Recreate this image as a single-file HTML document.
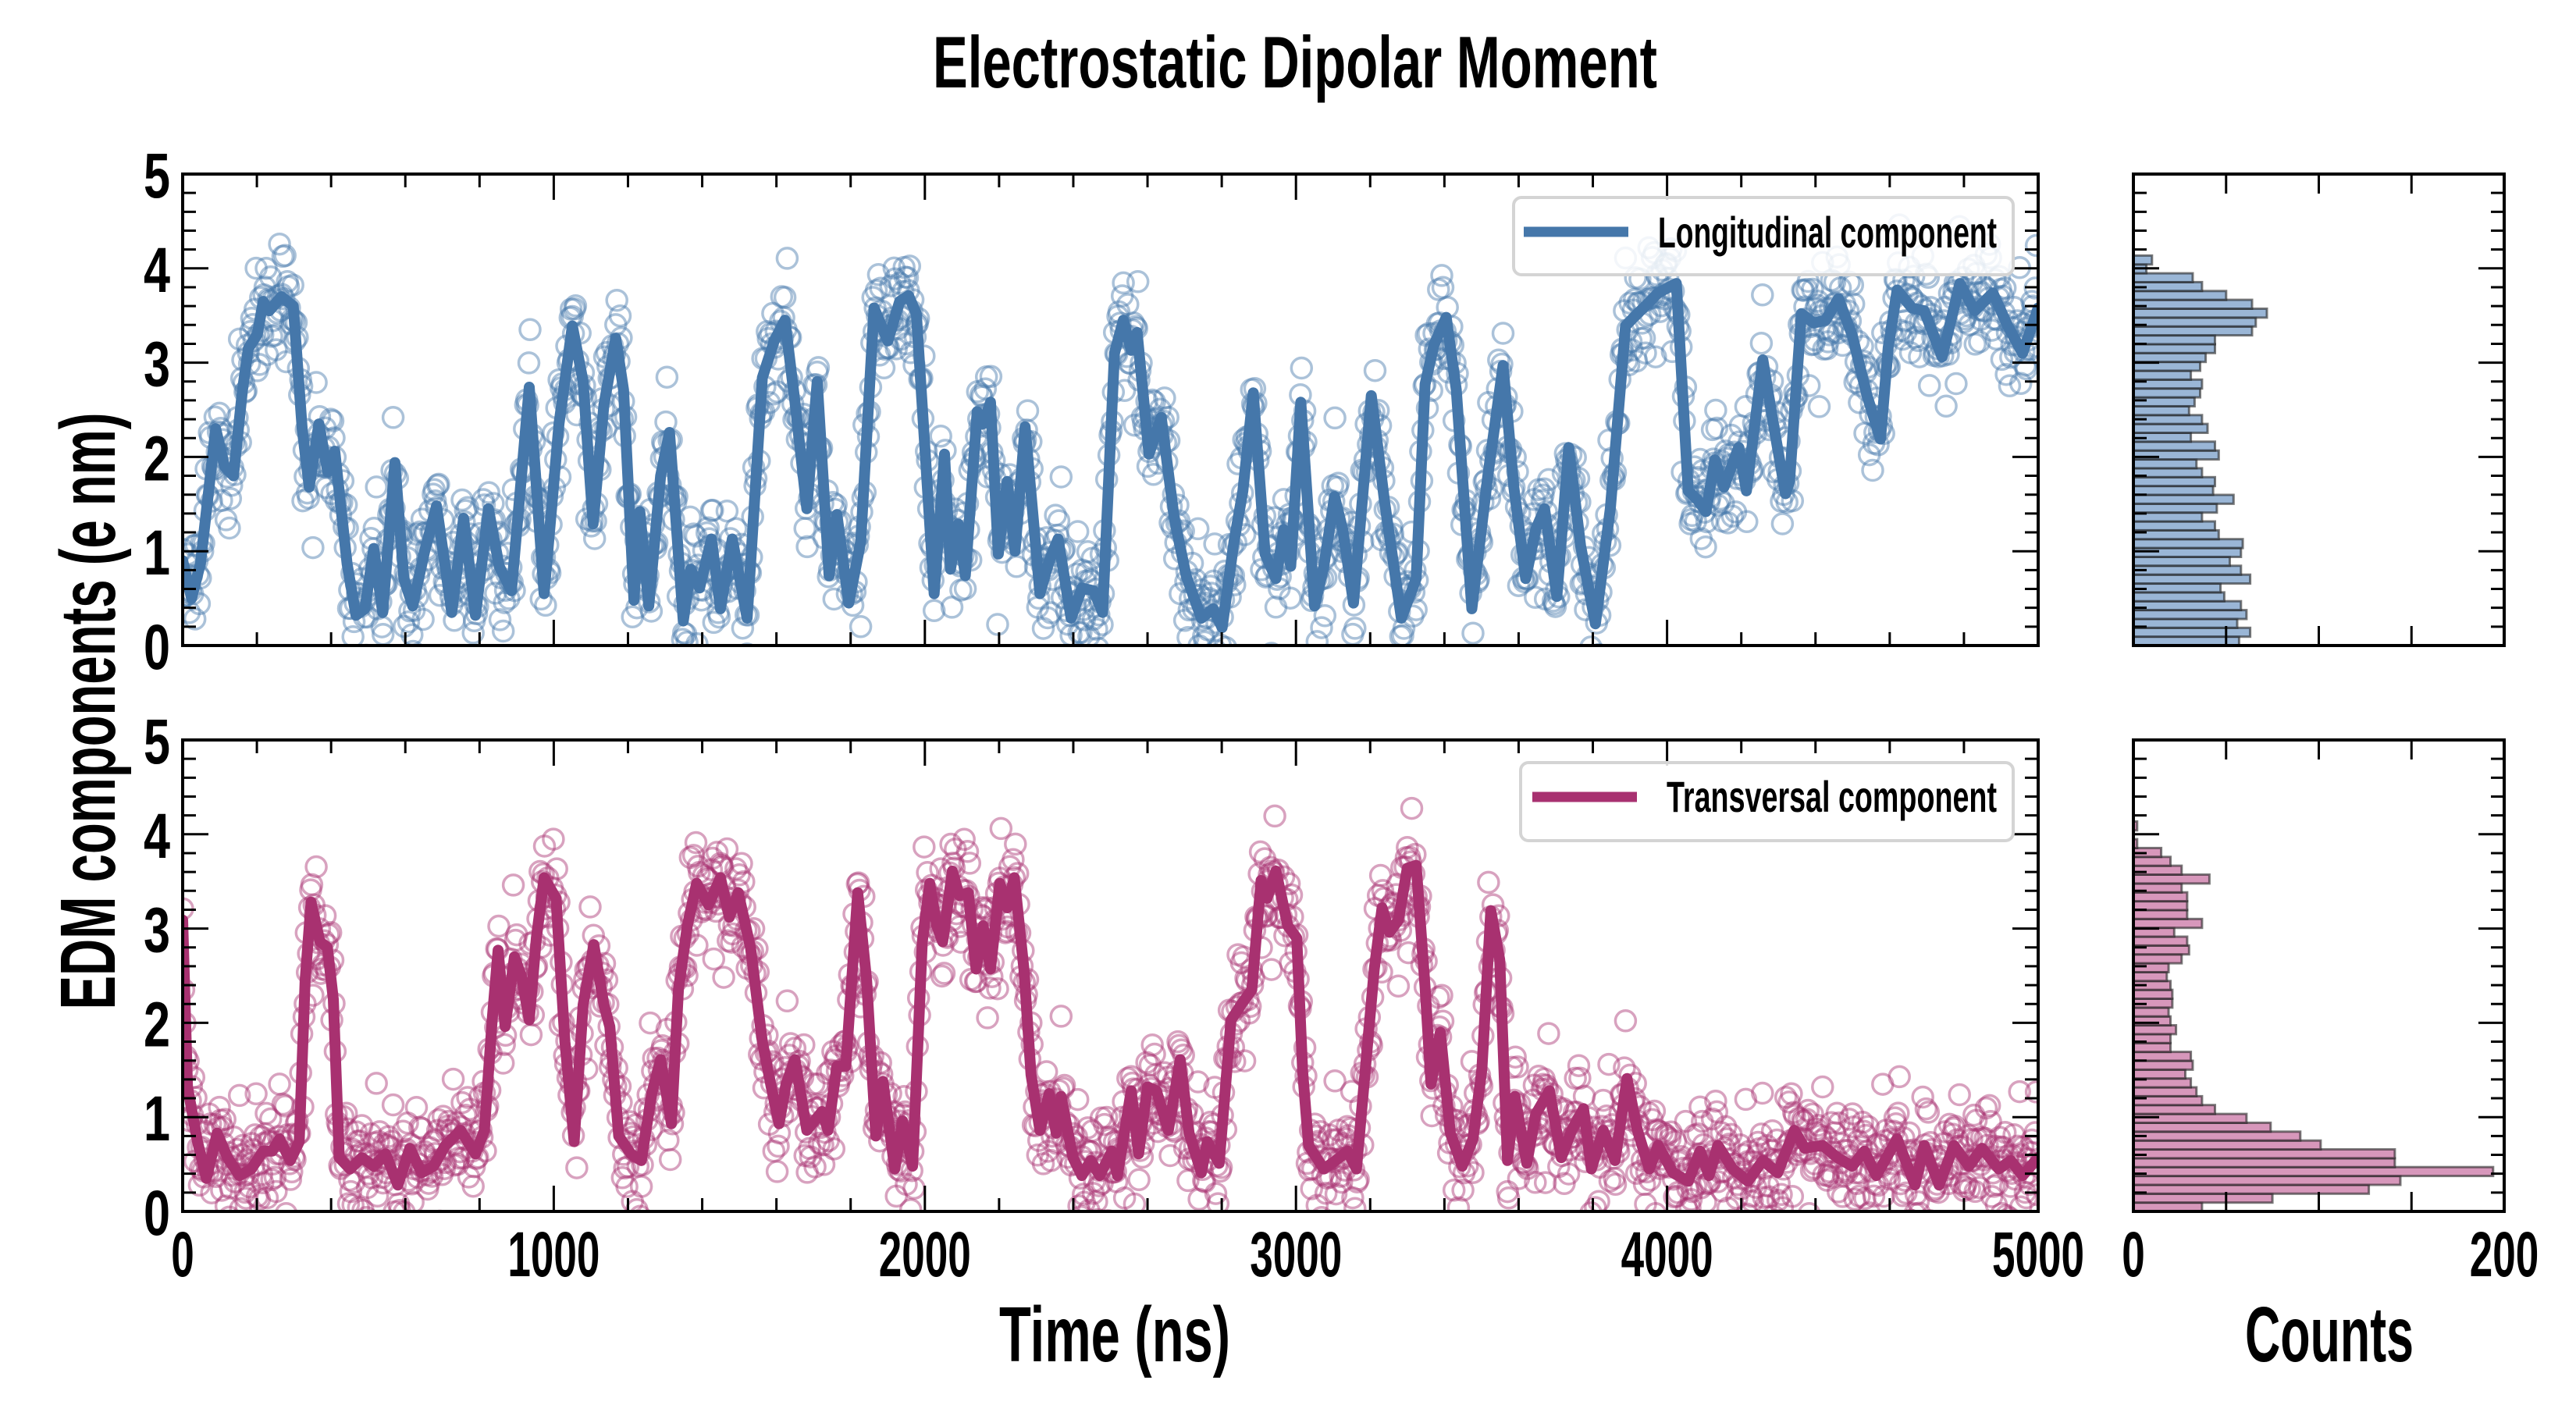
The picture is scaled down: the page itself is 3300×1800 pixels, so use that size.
<!DOCTYPE html>
<html><head><meta charset="utf-8"><style>
html,body{margin:0;padding:0;background:#fff;}
svg{display:block;}
text{font-family:"Liberation Sans Narrow","Liberation Sans",sans-serif;font-weight:bold;fill:#000;}
</style></head><body>
<svg id="chart" xmlns="http://www.w3.org/2000/svg" width="3300" height="1800" viewBox="0 0 3300 1800">
<defs>
<clipPath id="clipTop"><rect x="234" y="223" width="2377" height="604"/></clipPath>
<clipPath id="clipBot"><rect x="234" y="948" width="2377" height="604"/></clipPath>
</defs>
<text x="1659" y="112" font-size="94" text-anchor="middle" textLength="928" lengthAdjust="spacingAndGlyphs">Electrostatic Dipolar Moment</text>
<text x="1428" y="1744" font-size="100" text-anchor="middle" textLength="296" lengthAdjust="spacingAndGlyphs">Time (ns)</text>
<text x="2984" y="1744" font-size="100" text-anchor="middle" textLength="216" lengthAdjust="spacingAndGlyphs">Counts</text>
<text transform="translate(147,911) rotate(-90)" x="0" y="0" font-size="100" text-anchor="middle" textLength="765" lengthAdjust="spacingAndGlyphs">EDM components (e nm)</text>
<g id="gTop" clip-path="url(#clipTop)"></g>
<g id="gBot" clip-path="url(#clipBot)"></g>
<g id="gHist"></g>
<g id="gAxes"></g>
<g id="gLegend"></g>
</svg>
<script>
// ---- data ----
const longT = [0,24,48,89,113,137,161,177,201,217,233,266,298,322,341,367,391,410,443,467,491,515,539,572,596,620,652,684,725,757,789,824,853,886,934,974,1014,1050,1079,1106,1135,1167,1188,1216,1232,1256,1288,1312,1349,1369,1393,1425,1449,1481,1521,1562,1594,1623,1650,1682,1710,1742,1763,1795,1827,1863,1900,1932,1956,1977,2025,2053,2069,2090,2109,2141,2157,2177,2198,2222,2243,2270,2310,2335,2359,2394,2423,2455,2479,2511,2535,2556,2572,2604,2637,2672,2704,2745,2777,2801,2833,2857,2885,2917,2946,2967,2986,3013,3050,3075,3104,3126,3155,3203,3239,3284,3324,3348,3372,3405,3432,3474,3517,3558,3587,3619,3646,3670,3703,3735,3767,3807,3847,3888,3920,3944,3976,4025,4057,4081,4105,4129,4153,4193,4214,4258,4282,4319,4330,4362,4395,4427,4462,4499,4539,4575,4596,4620,4660,4693,4741,4789,4829,4878,4918,4958,5000];
const longV = [0.9,0.5,0.87,2.3,1.9,1.8,2.7,3.15,3.3,3.65,3.55,3.7,3.6,2.3,1.68,2.35,1.84,2.06,0.87,0.32,0.39,1.03,0.35,1.94,0.71,0.42,1.0,1.48,0.35,1.35,0.32,1.45,0.84,0.58,2.74,0.55,2.35,3.39,2.8,1.29,2.55,3.26,2.71,0.48,1.42,0.42,1.8,2.26,0.26,0.81,0.61,1.13,0.39,1.13,0.29,2.84,3.23,3.45,2.58,1.45,2.8,0.74,1.39,0.45,1.1,3.58,3.23,3.65,3.71,3.52,0.55,2.03,0.81,1.29,0.74,2.48,2.35,2.58,0.97,1.74,1.0,2.32,0.55,0.9,1.13,0.29,0.61,0.58,0.35,3.1,3.45,3.13,3.32,2.03,2.42,1.35,0.74,0.29,0.39,0.19,1.1,1.64,2.68,0.97,0.71,1.23,0.84,2.58,0.42,0.84,1.58,1.23,0.45,2.65,1.52,0.29,0.71,2.77,3.19,3.48,2.71,0.39,1.8,2.97,1.68,0.71,1.23,1.45,0.52,2.1,1.06,0.23,1.45,3.39,3.52,3.61,3.74,3.84,1.64,1.55,1.42,1.97,1.68,2.1,1.64,3.03,2.45,1.61,1.74,3.52,3.42,3.45,3.68,3.29,2.65,2.19,3.16,3.77,3.58,3.55,3.06,3.84,3.55,3.74,3.39,3.1,3.58];
const transT = [0,13,40,64,93,121,153,185,217,241,261,290,314,330,346,370,390,406,422,451,483,515,547,580,612,644,676,708,749,789,813,834,850,869,894,914,934,953,974,1006,1030,1055,1079,1108,1135,1151,1175,1208,1236,1264,1288,1317,1336,1360,1385,1417,1449,1473,1497,1530,1562,1586,1607,1626,1650,1682,1723,1739,1763,1787,1819,1843,1868,1887,1919,1940,1967,1993,2013,2032,2048,2074,2093,2117,2138,2157,2177,2202,2222,2241,2267,2286,2310,2335,2354,2367,2399,2423,2447,2471,2504,2519,2556,2576,2600,2624,2656,2688,2712,2745,2761,2793,2825,2857,2881,2906,2922,2946,2978,3002,3018,3034,3075,3107,3139,3163,3190,3211,3232,3252,3276,3300,3324,3348,3364,3389,3416,3448,3477,3501,3525,3549,3570,3590,3622,3646,3683,3715,3743,3775,3796,3828,3860,3892,3920,3952,3976,4016,4057,4089,4113,4137,4177,4218,4258,4298,4343,4371,4419,4459,4499,4532,4564,4620,4668,4693,4733,4773,4813,4849,4894,4926,4958,5000];
const transV = [3.09,1.32,0.74,0.35,0.83,0.57,0.38,0.45,0.64,0.64,0.77,0.54,0.74,2.45,3.28,2.86,2.8,2.25,0.57,0.45,0.57,0.48,0.61,0.28,0.67,0.41,0.48,0.7,0.86,0.61,0.86,2.03,2.77,1.96,2.7,2.48,2.03,2.9,3.54,3.32,1.8,0.74,2.19,2.83,2.19,1.96,0.8,0.61,0.54,1.25,1.61,0.93,2.35,3.03,3.48,3.25,3.54,3.12,3.38,2.8,1.8,1.32,0.93,1.35,1.61,0.86,1.06,0.86,1.54,1.54,3.38,2.45,0.8,1.38,0.45,0.96,0.48,2.86,3.48,3.03,2.86,3.61,3.35,3.38,2.57,3.03,2.57,3.48,3.22,3.54,2.57,1.45,0.86,1.25,0.83,1.22,0.57,0.38,0.54,0.38,0.64,0.38,1.28,0.61,1.32,1.28,0.86,1.61,0.83,0.41,0.74,0.51,2.03,2.22,2.35,3.51,3.32,3.61,3.03,2.9,1.48,0.7,0.45,0.54,0.64,0.45,1.64,2.57,3.22,2.96,3.09,3.64,3.67,2.38,1.35,1.9,0.83,0.48,0.77,1.51,3.19,2.67,0.54,1.22,0.51,1.03,1.28,0.57,0.86,1.09,0.45,0.86,0.54,1.41,0.86,0.45,0.7,0.41,0.32,0.64,0.38,0.7,0.45,0.32,0.54,0.41,0.86,0.67,0.7,0.57,0.48,0.64,0.38,0.77,0.28,0.7,0.28,0.7,0.48,0.67,0.45,0.54,0.38,0.57];
const scatterDev = [0.12,-0.25,0.38,-0.08,0.55,-0.41,0.2,-0.6,0.05,0.3,-0.18,0.72,-0.33,0.1,-0.5,0.44,-0.05,0.26,-0.7,0.15,0.62,-0.22,0.0,-0.38,0.48,-0.12,0.33,-0.55,0.08,0.85,-0.28,0.18,-0.45,0.4,-0.15,0.58,-0.65,0.22,-0.02,0.35,-0.9];
const longHist = [57,63,56,61,58,49,47,63,58,52,58,59,46,44,37,45,54,43,44,37,34,46,44,31,40,37,30,33,36,37,31,36,39,44,44,64,66,72,64,50,37,32,7,10];
const transHist = [37,75,127,144,194,141,141,101,90,74,61,44,37,34,31,28,32,31,20,20,23,20,19,21,21,20,18,19,26,30,29,22,37,29,29,29,26,41,26,20,15,2,0,2];
const binWidth = 0.094;
const xTicks = [0,1000,2000,3000,4000,5000];
const yTicks = [0,1,2,3,4,5];
const histTicks = [0,200];

// ---- axes geometry ----
const NS="http://www.w3.org/2000/svg";
const X0=234, X1=2611, TOP0=223, TOP1=827, BOT0=948, BOT1=1552, H0=2733, H1=3208;
const xs = t => X0 + t/5000*(X1-X0);
const yTop = v => TOP1 - v/5*(TOP1-TOP0);
const yBot = v => BOT1 - v/5*(BOT1-BOT0);
const hx = c => H0 + c/200*(H1-H0);
const BLUE="#4577aa", PINK="#a83170";
function mk(tag, attrs, parent){const e=document.createElementNS(NS,tag);for(const k in attrs)e.setAttribute(k,attrs[k]);parent.appendChild(e);return e;}
function interp(T,V,t){for(let i=1;i<T.length;i++){if(t<=T[i]){const f=(t-T[i-1])/(T[i]-T[i-1]);return V[i-1]+f*(V[i]-V[i-1]);}}return V[V.length-1];}

function drawSeries(g, T, V, yf, color, name){
  const sg = mk('g',{},g);
  
  
  let k=0;
  for(let t=0;t<=5000;t+=3){
    const d = scatterDev[(k*7)%scatterDev.length]*(k%3===0?1.0:0.55);
    const v = interp(T,V,t)+d;
    const c = mk('circle',{cx:xs(t).toFixed(1),cy:yf(v).toFixed(1),r:13,fill:'none',stroke:color,'stroke-opacity':0.45,'stroke-width':3.5},sg);
    
    
    k++;
  }
  let d='';
  for(let i=0;i<T.length;i++){d+=(i?'L':'M')+xs(T[i]).toFixed(1)+','+yf(V[i]).toFixed(1);}
  const p = mk('path',{d:d,fill:'none',stroke:color,'stroke-width':14,'stroke-linejoin':'round','stroke-linecap':'round'},g);
  
  
}
drawSeries(document.getElementById('gTop'), longT, longV, yTop, BLUE, 'longitudinal');
drawSeries(document.getElementById('gBot'), transT, transV, yBot, PINK, 'transversal');

// histograms
const gH = document.getElementById('gHist');
function drawHist(counts, yf, fill, name){
  for(let i=0;i<counts.length;i++){
    if(counts[i]<=0) continue;
    const ya=yf((i+1)*binWidth), yb=yf(i*binWidth);
    const r = mk('rect',{x:H0,y:ya.toFixed(1),width:(hx(counts[i])-H0).toFixed(1),height:(yb-ya).toFixed(1),fill:fill,stroke:'#222','stroke-opacity':0.6,'stroke-width':3},gH);
    
    
  }
}
drawHist(longHist, yTop, 'rgba(120,158,200,0.75)', 'longitudinal-hist');
drawHist(transHist, yBot, 'rgba(205,125,170,0.8)', 'transversal-hist');

// axes frames and ticks
const gA = document.getElementById('gAxes');
function frame(x0,y0,x1,y1,name){
  const r = mk('rect',{x:x0,y:y0,width:x1-x0,height:y1-y0,fill:'none',stroke:'#000','stroke-width':4},gA);
  
  
}
function tick(x1,y1,x2,y2){mk('line',{x1:x1,y1:y1,x2:x2,y2:y2,stroke:'#000','stroke-width':3},gA);}
function label(txt,x,y,anchor,w,name){
  const t = mk('text',{x:x,y:y,'font-size':82,'text-anchor':anchor,textLength:w,lengthAdjust:'spacingAndGlyphs'},gA);
  t.textContent = txt;
  
  
}
function yAxis(yf, x0, x1, withLabels, prefix){
  for(let v=0; v<=5.001; v+=0.2){
    const major = Math.abs(v-Math.round(v))<1e-6;
    const L = major?33:17;
    const y = yf(v);
    tick(x0,y,x0+L,y); tick(x1,y,x1-L,y);
  }
  if(withLabels){ for(const v of yTicks){ label(String(v),218,yf(v)+30,'end',34,prefix+'-y-tick-label'); } }
}
[[yTop,TOP0,TOP1,'top'],[yBot,BOT0,BOT1,'bottom']].forEach(([yf,y0,y1,nm])=>{
  frame(X0,y0,X1,y1,nm+'-plot-frame');
  frame(H0,y0,H1,y1,nm+'-hist-frame');
  for(let t=0;t<=5000;t+=200){
    const L = (t%1000===0)?33:17;
    tick(xs(t),y0,xs(t),y0+L); tick(xs(t),y1,xs(t),y1-L);
  }
  for(let c=50;c<200;c+=50){ tick(hx(c),y0,hx(c),y0+25); tick(hx(c),y1,hx(c),y1-25); }
  yAxis(yf,X0,X1,true,nm);
  yAxis(yf,H0,H1,false,nm+'-hist');
});
for(const t of xTicks){ label(String(t), xs(t), 1635, 'middle', String(t).length*29.5, 'x-tick-label'); }
for(const c of histTicks){ label(String(c), hx(c), 1635, 'middle', String(c).length*29.5, 'hist-x-tick-label'); }

// legends
const gL = document.getElementById('gLegend');
function legend(x0,y0,x1,y1,lx0,lx1,ly,tx,ty,tw,txt,color,name){
  const b = mk('rect',{x:x0,y:y0,width:x1-x0,height:y1-y0,rx:10,fill:'rgba(255,255,255,0.85)',stroke:'#d4d4d4','stroke-width':4},gL);
  
  
  const l = mk('line',{x1:lx0,y1:ly,x2:lx1,y2:ly,stroke:color,'stroke-width':13},gL);
  
  
  const t = mk('text',{x:tx,y:ty,'font-size':56,textLength:tw,lengthAdjust:'spacingAndGlyphs'},gL);
  t.textContent = txt;
  
  
}
legend(1939,253,2579,352,1952,2086,297,2124,317,434,'Longitudinal component',BLUE,'legend-longitudinal');
legend(1948,977,2579,1077,1963,2097,1021,2135,1040,423,'Transversal component',PINK,'legend-transversal');
</script>
</body></html>
